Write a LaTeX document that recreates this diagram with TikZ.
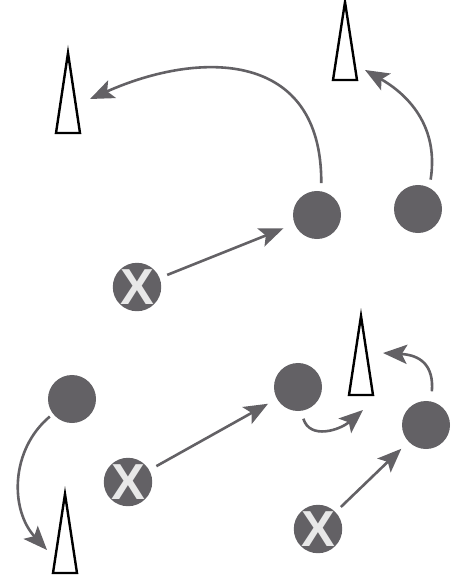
\documentclass[tikz,border=0pt]{standalone}
\usepackage{fontspec}
\setsansfont{Liberation Sans}
\usetikzlibrary{arrows.meta}

\definecolor{chipgray}{RGB}{99,97,101}
\definecolor{xgray}{RGB}{232,232,232}

\tikzset{
    player/.style={circle, fill=chipgray, minimum size=1.2cm, inner sep=0pt},
    xplayer/.style={player, text=xgray, font=\sffamily\bfseries\fontsize{36}{36}\selectfont},
    cone/.style={draw=black, fill=white, line width=0.06cm},
    run/.style={draw=chipgray, line width=0.065cm, -{Stealth[length=0.6cm, width=0.48cm, inset=0.13cm, fill=chipgray]}},
}

\begin{document}
\begin{tikzpicture}[x=0.025cm, y=-0.025cm]
            \useasboundingbox (0, 0) rectangle (454, 578);

            % cones
            \draw[cone] (56, 133) -- (68, 53) -- (80, 133) -- cycle;
            \draw[cone] (333, 80) -- (345, 2) -- (357, 80) -- cycle;
            \draw[cone] (53, 573) -- (65, 494) -- (77, 573) -- cycle;
            \draw[cone] (349, 395) -- (361, 316) -- (373, 395) -- cycle;

            % players
            \node[player] (c1) at (317, 215) {};
            \node[player] (c2) at (418, 209) {};
            \node[xplayer] (x1) at (137, 287) {X};
            \node[player] (c3) at (72, 399) {};
            \node[player] (c4) at (298, 387) {};
            \node[player] (c5) at (426, 425) {};
            \node[xplayer] (x2) at (128, 482) {X};
            \node[xplayer] (x3) at (318, 529) {X};

            % free ends near the cones
            \coordinate (tipA) at (90, 99);
            \coordinate (tipB) at (365, 70);
            \coordinate (tipC) at (47, 550);
            \coordinate (tipD) at (363, 410);
            \coordinate (tipE) at (383, 353);

            % passes
            \draw[run, shorten <=0.2cm, shorten >=0.3cm] (x1) -- (c1);
            \draw[run, shorten <=0.2cm, shorten >=0.25cm] (x2) -- (c4);
            \draw[run, shorten <=0.18cm, shorten >=0.25cm] (x3) -- (c5);

            % runs
            \draw[run, shorten <=0.2cm] (c1.80) .. controls (322, 50) and (200, 50) .. (tipA);
            \draw[run, shorten <=0.2cm] (c2.62) .. controls (440, 120) and (400, 90) .. (tipB);
            \draw[run, shorten <=0.1cm] (c3.218) .. controls (10, 450) and (10, 510) .. (tipC);
            \draw[run, shorten <=0.2cm] (c4.-83) .. controls (310, 440) and (340, 430) .. (tipD);
            \draw[run, shorten <=0.25cm] (c5.78) .. controls (434, 365) and (420, 355) .. (tipE);
\end{tikzpicture}
\end{document}
